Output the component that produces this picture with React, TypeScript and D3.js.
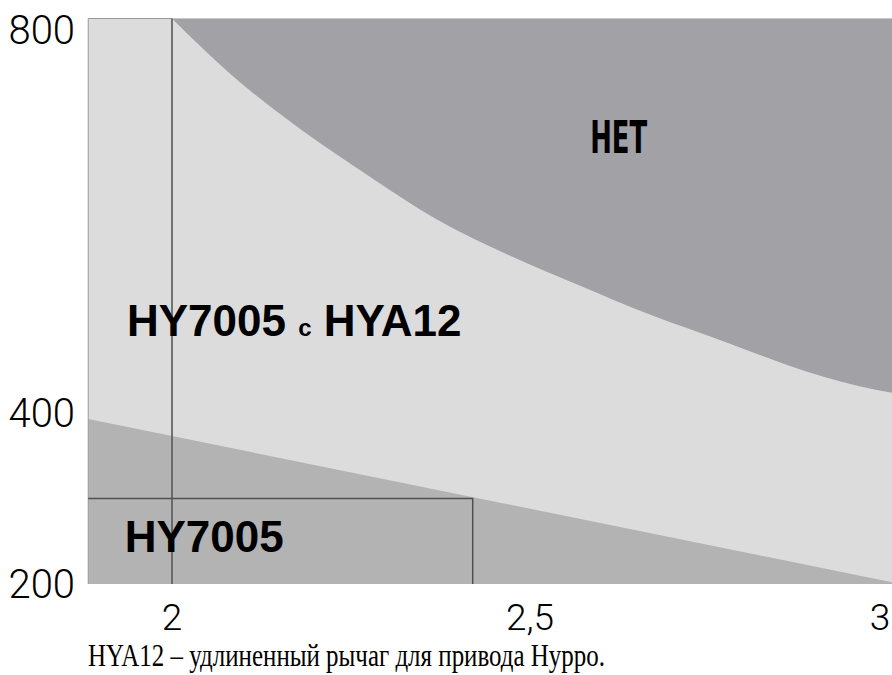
import React, { useEffect, useRef } from 'react';
import * as d3 from 'd3';

// axis ticks
const xTicks = [2, 2.5, 3];
const xTickLabels = ['2', '2,5', '3'];
const yTicks = [200, 400, 800];
const yTickLabels = ['200', '400', '800'];

// plot extents in data units
const xMin = 1.883;
const xMax = 3.006;
const yMin = 200;
const yMax = 812;

// upper limit (НЕТ zone boundary)
const limitCurve: [number, number][] = [
    [2.0, 812], [2.08, 755], [2.18, 696], [2.28, 645], [2.37, 602],
    [2.47, 565], [2.57, 533], [2.67, 502], [2.77, 475], [2.86, 450],
    [2.96, 428], [3.006, 421],
];

// lower zone boundary (HY7005 only)
const lowerLine: [number, number][] = [[1.883, 393], [3.006, 202]];

// HY7005 box
const boxX = 2.42;
const boxY = 300;
const splitX = 2;

function App() {
    const ref = useRef<SVGSVGElement>(null);

    useEffect(() => {
        const svg = d3.select(ref.current);
        svg.selectAll('*').remove();

        const x = d3.scaleLinear().domain([2, 3]).range([172, 888]);
        const y = d3.scaleLinear().domain([200, 400, 800]).range([584, 413, 30]);

        const left = x(xMin), right = x(xMax), top = y(yMax), bottom = y(yMin);

        // light background
        svg.append('rect')
            .attr('x', left).attr('y', top)
            .attr('width', right - left).attr('height', bottom - top)
            .attr('fill', '#dcdcdc');

        // НЕТ zone
        const upper = d3.area<[number, number]>()
            .x((d) => x(d[0]))
            .y0(top)
            .y1((d) => y(d[1]))
            .curve(d3.curveMonotoneX);
        svg.append('path').attr('d', upper(limitCurve)).attr('fill', '#a2a1a5');

        // HY7005 zone
        const lower = d3.area<[number, number]>()
            .x((d) => x(d[0]))
            .y0(bottom)
            .y1((d) => y(d[1]));
        svg.append('path').attr('d', lower(lowerLine)).attr('fill', '#b3b3b3');

        // left / top edge
        svg.append('path')
            .attr('d', `M${left},${bottom}V${top}H${x(splitX)}`)
            .attr('fill', 'none').attr('stroke', '#9a9a9a').attr('stroke-width', 1);

        // lines
        const lines = svg.append('g').attr('stroke', '#505050').attr('stroke-width', 1.5).attr('fill', 'none');
        lines.append('line')
            .attr('x1', x(splitX)).attr('x2', x(splitX))
            .attr('y1', top).attr('y2', bottom);
        lines.append('path')
            .attr('d', `M${left},${y(boxY)}H${x(boxX)}V${bottom}`);

        // y tick labels
        svg.append('g')
            .selectAll('text')
            .data(yTicks)
            .join('text')
                .attr('x', 75)
                .attr('y', (d) => y(d))
                .attr('dy', '0.36em')
                .attr('text-anchor', 'end')
                .style('font-family', 'Roboto, "Liberation Sans", sans-serif')
                .style('font-weight', 300)
                .style('font-size', '40px')
                .text((d, i) => yTickLabels[i]);

        // x tick labels
        svg.append('g')
            .selectAll('text')
            .data(xTicks)
            .join('text')
                .attr('x', (d, i) => (i === xTicks.length - 1 ? right - 2 : x(d)))
                .attr('y', 630)
                .attr('text-anchor', (d, i) => (i === xTicks.length - 1 ? 'end' : 'middle'))
                .style('font-family', 'Roboto, "Liberation Sans", sans-serif')
                .style('font-weight', 300)
                .style('font-size', '37px')
                .text((d, i) => xTickLabels[i]);

        // zone labels
        const bold = 'Arial, "Liberation Sans", sans-serif';
        const mid = svg.append('text')
            .attr('x', x(1.937)).attr('y', y(480))
            .style('font-family', bold).style('font-weight', 'bold').style('font-size', '44px');
        mid.append('tspan').text('HY7005 ');
        mid.append('tspan').style('font-size', '24px').text('с');
        mid.append('tspan').text(' HYA12');

        svg.append('text')
            .attr('x', x(1.934)).attr('y', y(237))
            .style('font-family', bold).style('font-weight', 'bold').style('font-size', '44px')
            .text('HY7005');

        svg.append('text')
            .attr('x', x(2.584)).attr('y', y(672))
            .attr('textLength', 57).attr('lengthAdjust', 'spacingAndGlyphs')
            .style('font-family', '"Liberation Sans Narrow", "DejaVu Sans Condensed", sans-serif')
            .style('font-weight', 'bold').style('font-size', '44px')
            .text('НЕТ');

        // caption
        svg.append('text')
            .attr('x', 88).attr('y', 666)
            .attr('textLength', 517).attr('lengthAdjust', 'spacingAndGlyphs')
            .style('font-family', '"Liberation Serif", "Times New Roman", serif')
            .style('font-size', '31px')
            .text('HYA12 – удлиненный рычаг для привода Hyppo.');
    }, []);

    return (
        <svg ref={ref} width={892} height={675}
            style={{ position: 'absolute', left: 0, top: 0, background: '#fff' }} />
    );
}

export default App;
